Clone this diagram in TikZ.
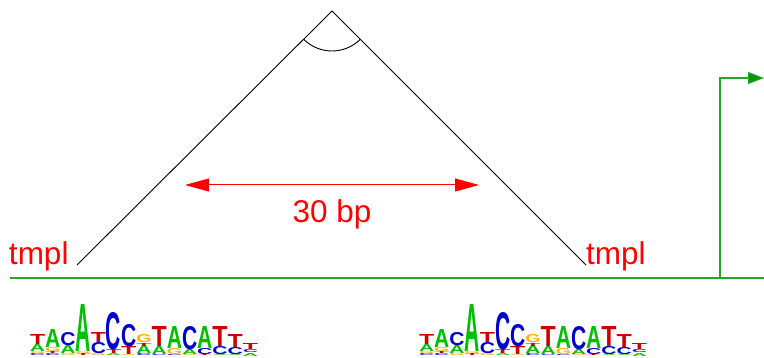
\documentclass[tikz,border=0pt]{standalone}
\usepackage{fontspec}
\setmainfont{Liberation Sans}
\usetikzlibrary{arrows.meta}
\definecolor{lgA}{RGB}{0,190,0}
\definecolor{lgC}{RGB}{0,0,205}
\definecolor{lgG}{RGB}{255,178,0}
\definecolor{lgT}{RGB}{205,0,0}
\definecolor{tssgreen}{RGB}{0,150,0}
\tikzset{
  lgletter/.style={anchor=south west, inner sep=0pt, outer sep=0pt, font=\bfseries},
  redlabel/.style={text=red, font=\fontsize{31.5}{36}\selectfont, inner sep=0pt, outer sep=0pt},
  blackline/.style={draw=black, line width=0.9pt},
  gline/.style={draw=tssgreen!85, line width=1.2pt},
}
\newcommand{\lgcol}[3]{%
  \gdef\lgy{356}%
  \foreach \h/\l/\c [count=\k] in {#3}{%
    \pgfmathsetmacro{\lgx}{(#2-1)*15.2}%
    \node[lgletter, text=\c] (#1-#2-\k) at (\lgx,\lgy) {\resizebox{15.2pt}{\h pt}{\l}};%
    \pgfmathsetmacro{\lgyn}{\lgy-\h}%
    \xdef\lgy{\lgyn}%
  }%
}
\newcommand{\lglogo}[1]{%
  \lgcol{#1}{1}{2/C/lgC, 2/G/lgG, 7/A/lgA, 10/T/lgT}
  \lgcol{#1}{2}{2/C/lgC, 2/T/lgT, 4/G/lgG, 18/A/lgA}
  \lgcol{#1}{3}{2/G/lgG, 8/A/lgA, 13/C/lgC}
  \lgcol{#1}{4}{2/T/lgT, 2/G/lgG, 47/A/lgA}
  \lgcol{#1}{5}{2/G/lgG, 11/C/lgC, 10/T/lgT}
  \lgcol{#1}{6}{2/A/lgA, 4/T/lgT, 37/C/lgC}
  \lgcol{#1}{7}{1/G/lgG, 8/T/lgT, 22/C/lgC}
  \lgcol{#1}{8}{2/C/lgC, 8/A/lgA, 3/T/lgT, 8/G/lgG}
  \lgcol{#1}{9}{1/C/lgC, 8/A/lgA, 20/T/lgT}
  \lgcol{#1}{10}{1/C/lgC, 6/G/lgG, 22/A/lgA}
  \lgcol{#1}{11}{1/G/lgG, 5/A/lgA, 23/C/lgC}
  \lgcol{#1}{12}{1/T/lgT, 6/C/lgC, 22/A/lgA}
  \lgcol{#1}{13}{1/A/lgA, 8/C/lgC, 20/T/lgT}
  \lgcol{#1}{14}{1/A/lgA, 7/C/lgC, 13/T/lgT}
  \lgcol{#1}{15}{3/A/lgA, 3/C/lgC, 6/T/lgT}
}
\begin{document}
\begin{tikzpicture}[x=1pt,y=-1pt]
\useasboundingbox (0,0) rectangle (764,358);
% template triangle
\coordinate (apex) at (332,11);
\coordinate (L) at (77,265);
\coordinate (R) at (586,265);
\draw[blackline] (L) -- (apex) -- (R);
\draw[blackline] ([shift={(135:40)}]apex) arc[start angle=135, end angle=45, radius=40];
% distance arrow
\coordinate (dl) at (185,185);
\coordinate (dr) at (479,185);
\draw[red, line width=1pt, {Triangle[length=24pt,width=13pt]}-{Triangle[length=24pt,width=13pt]}] (dl) -- (dr);
\node[redlabel, anchor=base] (dist) at (332,223) {30 bp};
% labels
\node[redlabel, anchor=base west] (tl) at (9,265) {tmpl};
\node[redlabel, anchor=base west] (tr) at (586,265) {tmpl};
% baseline and TSS arrow
\coordinate (g0) at (10,278);
\coordinate (g1) at (764,278);
\coordinate (tss) at (720,278);
\coordinate (tssup) at (720,78);
\coordinate (tsstip) at (764,78);
\draw[gline] (g0) -- (g1);
\draw[gline, -{Triangle[length=16pt,width=12pt,fill=tssgreen]}] (tss) -- (tssup) -- (tsstip);
% logos
\begin{scope}[shift={(30,0)}]
\lglogo{la}
\end{scope}
\begin{scope}[shift={(419,0)}]
\lglogo{lb}
\end{scope}
\end{tikzpicture}
\end{document}
